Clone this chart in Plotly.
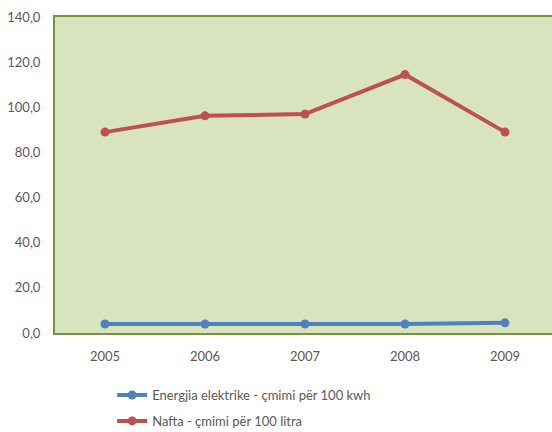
import plotly.graph_objects as go

years = ["2005", "2006", "2007", "2008", "2009"]
energjia = [4.0, 4.0, 4.0, 4.0, 4.5]
nafta = [89.0, 96.2, 97.0, 114.5, 89.0]
y_ticks = [0, 20, 40, 60, 80, 100, 120, 140]
y_labels = ["0,0", "20,0", "40,0", "60,0", "80,0", "100,0", "120,0", "140,0"]

font_family = "Lato, sans-serif"
grey = "#595959"
green_line = "#77933C"

fig = go.Figure()
fig.add_trace(go.Scatter(
    x=years, y=energjia, mode="lines+markers",
    name="Energjia elektrike - çmimi për 100 kwh",
    legendgroup="a",
    line=dict(color="#4F81BD", width=4),
    marker=dict(color="#4F81BD", size=9),
))
fig.add_trace(go.Scatter(
    x=years, y=nafta, mode="lines+markers",
    name="Nafta - çmimi për 100 litra",
    legendgroup="b",
    line=dict(color="#C0504D", width=4),
    marker=dict(color="#C0504D", size=9),
))

fig.update_layout(
    width=552, height=432,
    margin=dict(l=55, r=0, t=17, b=99, autoexpand=False),
    paper_bgcolor="white",
    plot_bgcolor="#D7E4BD",
    font=dict(family=font_family, size=13, color=grey),
    showlegend=True,
    legend=dict(
        orientation="v", x=0.115, xanchor="left", y=-0.149, yanchor="top",
        font=dict(family=font_family, size=13, color=grey),
        tracegroupgap=6, itemwidth=30,
    ),
    xaxis=dict(
        type="category", range=[-0.5, 4.47],
        showgrid=False, zeroline=False,
        showline=True, linecolor=green_line, linewidth=2, mirror=True,
        ticks="outside", ticklen=10, tickcolor="rgba(0,0,0,0)",
        tickfont=dict(family=font_family, size=13, color=grey),
        fixedrange=True,
    ),
    yaxis=dict(
        range=[0, 140], tickvals=y_ticks, ticktext=y_labels,
        showgrid=False, zeroline=False,
        showline=True, linecolor=green_line, linewidth=2, mirror=False,
        ticks="outside", ticklen=10, tickcolor="rgba(0,0,0,0)",
        tickfont=dict(family=font_family, size=13, color=grey),
        fixedrange=True,
    ),
)

fig.write_html("out.html")
